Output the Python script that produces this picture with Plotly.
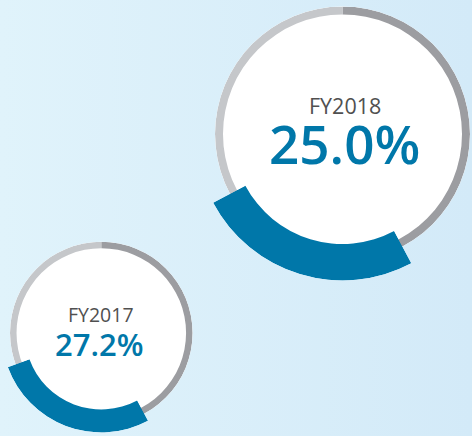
import math
import plotly.graph_objects as go

# ---- data ----
years = ["FY2017", "FY2018"]
values = [27.2, 25.0]          # percent

# ---- styling / geometry (pixels) ----
W, H = 472, 436
centers = [(101.3, 333.0), (342.5, 134.0)]
ring_out = [91.3, 127.5]
ring_w = [6.5, 8.0]
arc_in = [76.5, 110.0]
arc_out = [99.5, 146.5]
start_theta = 152.0            # degrees clockwise from 12 o'clock
label_y = [314.5, 105.0]
value_y = [344.0, 143.0]
label_x_shift = [0, 2]
value_x_shift = [-2, 1.5]
label_size = [19.5, 21.5]
value_size = [31, 53]

BG_LEFT = "#e0f3fb"
BG_RIGHT = "#d3eaf8"
LIGHT_GRAY = "#c5c7ca"
DARK_GRAY = "#9c9da1"
BLUE = "#0077a9"


def sector_bbox(s0, s1):
    arc = s1 - s0
    a0 = s0 % 360
    a1 = a0 + arc
    ax0, ay0 = math.cos(math.radians(a0)), math.sin(math.radians(a0))
    ax1, ay1 = math.cos(math.radians(a1)), math.sin(math.radians(a1))
    if (a0 <= 90 and a1 >= 90) or (a0 > 90 and a1 >= 450):
        y1 = 1
    elif ay0 <= 0 and ay1 <= 0:
        y1 = 0
    else:
        y1 = max(ay0, ay1)
    if (a0 <= 270 and a1 >= 270) or (a0 > 270 and a1 >= 630):
        y0 = -1
    elif ay0 >= 0 and ay1 >= 0:
        y0 = 0
    else:
        y0 = min(ay0, ay1)
    if a1 >= 360:
        x1 = 1
    elif ax0 <= 0 and ax1 <= 0:
        x1 = 0
    else:
        x1 = max(ax0, ax1)
    if (a0 <= 180 and a1 >= 180) or (a0 > 180 and a1 >= 540):
        x0 = -1
    elif ax0 >= 0 and ax1 >= 0:
        x0 = 0
    else:
        x0 = min(ax0, ax1)
    return x0, y0, x1, y1


def domain_for(cx, cy, R, bbox):
    x0, y0, x1, y1 = bbox
    left = cx + R * x0
    right = cx + R * x1
    top = cy - R * y1
    bottom = cy - R * y0
    return dict(x=[left / W, right / W], y=[1 - bottom / H, 1 - top / H])


fig = go.Figure()

# soft background gradient (decoration, fills the whole paper)
fig.add_trace(go.Scatter(
    x=[0, 1, 1, 0, 0], y=[0, 0, 1, 1, 0], mode="lines", fill="toself",
    line=dict(width=0),
    fillgradient=dict(type="horizontal", colorscale=[[0, BG_LEFT], [1, BG_RIGHT]]),
    showlegend=False, hoverinfo="skip",
))

layout_polars = {}
annotations = []
n = 0
for i, (yr, v) in enumerate(zip(years, values)):
    cx, cy = centers[i]
    # --- ring subplot (full circle) ---
    n += 1
    name = "polar" if n == 1 else f"polar{n}"
    Rg = ring_out[i]
    layout_polars[name] = dict(
        domain=domain_for(cx, cy, Rg, (-1, -1, 1, 1)),
        bgcolor="white",
        radialaxis=dict(range=[0, Rg], visible=False),
        angularaxis=dict(visible=False, rotation=90, direction="clockwise"),
    )
    fig.add_trace(go.Barpolar(
        theta=[90, 270], width=[180, 180],
        r=[ring_w[i], ring_w[i]], base=[Rg - ring_w[i], Rg - ring_w[i]],
        marker=dict(color=[DARK_GRAY, LIGHT_GRAY], line=dict(width=0)),
        subplot=name, showlegend=False, hoverinfo="skip",
    ))
    # --- value arc subplot (sector) ---
    n += 1
    name = f"polar{n}"
    span = v / 100 * 360
    s0 = (90 - (start_theta + span)) % 360
    s1 = s0 + span
    bb = sector_bbox(s0, s1)
    Rb = arc_out[i]
    layout_polars[name] = dict(
        domain=domain_for(cx, cy, Rb, bb),
        sector=[s0, s1],
        bgcolor="rgba(0,0,0,0)",
        radialaxis=dict(range=[0, Rb], visible=False),
        angularaxis=dict(visible=False, rotation=90, direction="clockwise"),
    )
    fig.add_trace(go.Barpolar(
        theta=[start_theta + span / 2], width=[span],
        r=[arc_out[i] - arc_in[i]], base=[arc_in[i]],
        marker=dict(color=BLUE, line=dict(width=0)),
        subplot=name, showlegend=False, hoverinfo="skip",
    ))
    # --- texts ---
    annotations.append(dict(
        x=(cx + label_x_shift[i]) / W, y=1 - label_y[i] / H,
        xref="paper", yref="paper",
        text=yr, showarrow=False, xanchor="center", yanchor="middle",
        font=dict(family="Open Sans", size=label_size[i], color="#505050"),
    ))
    annotations.append(dict(
        x=(cx + value_x_shift[i]) / W, y=1 - value_y[i] / H,
        xref="paper", yref="paper",
        text=f"{v:.1f}%", showarrow=False, xanchor="center", yanchor="middle",
        font=dict(family="Open Sans", size=value_size[i], color=BLUE, weight=600),
    ))

fig.update_layout(
    width=W, height=H,
    margin=dict(l=0, r=0, t=0, b=0, pad=0),
    paper_bgcolor=BG_LEFT, plot_bgcolor="rgba(0,0,0,0)",
    xaxis=dict(range=[0, 1], visible=False, fixedrange=True, domain=[0, 1]),
    yaxis=dict(range=[0, 1], visible=False, fixedrange=True, domain=[0, 1]),
    showlegend=False,
    annotations=annotations,
    **layout_polars,
)
fig.write_html(
    "out.html",
    config={"displayModeBar": False, "staticPlot": True},
    post_script="document.body.style.margin='0';document.body.style.overflow='hidden';",
)
